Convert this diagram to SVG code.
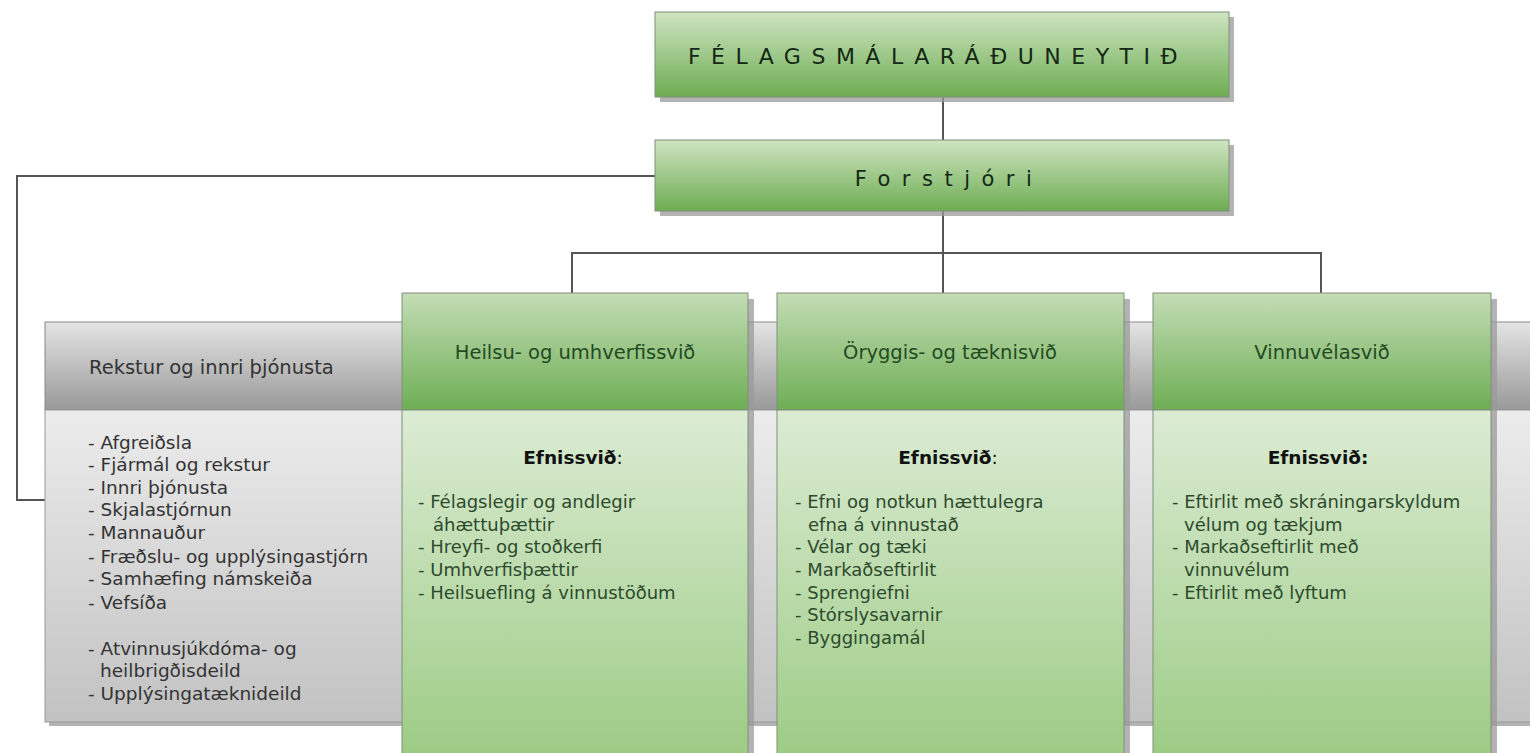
<svg xmlns="http://www.w3.org/2000/svg" width="1530" height="753" viewBox="0 0 1530 753">
<defs>
<linearGradient id="gTop" x1="0" y1="0" x2="0" y2="1">
<stop offset="0" stop-color="#cfe4c2"/><stop offset="1" stop-color="#6dad52"/>
</linearGradient>
<linearGradient id="gHead" x1="0" y1="0" x2="0" y2="1">
<stop offset="0" stop-color="#c4ddb6"/><stop offset="1" stop-color="#6eae54"/>
</linearGradient>
<linearGradient id="gBody" x1="0" y1="0" x2="0" y2="1">
<stop offset="0" stop-color="#dcecd4"/><stop offset="1" stop-color="#9ccb84"/>
</linearGradient>
<linearGradient id="grHead" x1="0" y1="0" x2="0" y2="1">
<stop offset="0" stop-color="#e4e4e4"/><stop offset="1" stop-color="#999999"/>
</linearGradient>
<linearGradient id="grBody" x1="0" y1="0" x2="0" y2="1">
<stop offset="0" stop-color="#ececec"/><stop offset="1" stop-color="#c2c2c2"/>
</linearGradient>
</defs>
<style>
.shadow{fill:#9a9a9a;opacity:0.75}
.edge{stroke:#7f8f7a;stroke-width:1}
.conn{fill:none;stroke:#555;stroke-width:2}
.title{font-family:"DejaVu Sans",Verdana,sans-serif;fill:#142814}
.hd{font-family:"DejaVu Sans",Verdana,sans-serif;font-size:19.5px;fill:#234a23;text-anchor:middle}
.ghd{font-family:"DejaVu Sans",Verdana,sans-serif;font-size:19.5px;fill:#333}
.ef{font-family:"DejaVu Sans",Verdana,sans-serif;font-size:18.5px;fill:#111;text-anchor:middle;font-weight:bold}
.li{font-family:"DejaVu Sans",Verdana,sans-serif;font-size:18px;fill:#2d4a2d}
.gli{font-family:"DejaVu Sans",Verdana,sans-serif;font-size:18.5px;fill:#333}
</style>
<rect width="1530" height="753" fill="#ffffff"/>

<g id="connectors">
<path class="conn" d="M943,97 V140"/>
<path class="conn" d="M655,176 H17 V500 H45"/>
<path class="conn" d="M943,211 V293"/>
<path class="conn" d="M572,293 V253 H1321 V293"/>
</g>

<g id="node-raduneyti">
<rect class="shadow" x="660" y="17" width="574" height="85"/>
<rect class="edge" x="655" y="12" width="574" height="85" fill="url(#gTop)"/>
<text class="title" x="938" y="64" text-anchor="middle" font-size="22" letter-spacing="10.5">FÉLAGSMÁLARÁÐUNEYTIÐ</text>
</g>

<g id="node-forstjori">
<rect class="shadow" x="660" y="145" width="574" height="71"/>
<rect class="edge" x="655" y="140" width="574" height="71" fill="url(#gTop)"/>
<text class="title" x="949" y="186" text-anchor="middle" font-size="21" letter-spacing="11.5">Forstjóri</text>
</g>

<g id="node-rekstur">
<rect class="shadow" x="49" y="326" width="1490" height="400"/>
<rect x="45" y="322" width="1490" height="88" fill="url(#grHead)" stroke="#888" stroke-width="1"/>
<rect x="45" y="410" width="1490" height="312" fill="url(#grBody)" stroke="#999" stroke-width="1"/>
<text class="ghd" x="89" y="374">Rekstur og innri þjónusta</text>
<text class="gli" x="88" y="449">- Afgreiðsla</text>
<text class="gli" x="88" y="471">- Fjármál og rekstur</text>
<text class="gli" x="88" y="494">- Innri þjónusta</text>
<text class="gli" x="88" y="516">- Skjalastjórnun</text>
<text class="gli" x="88" y="539">- Mannauður</text>
<text class="gli" x="88" y="563">- Fræðslu- og upplýsingastjórn</text>
<text class="gli" x="88" y="585">- Samhæfing námskeiða</text>
<text class="gli" x="88" y="609">- Vefsíða</text>
<text class="gli" x="88" y="655">- Atvinnusjúkdóma- og</text>
<text class="gli" x="100" y="677">heilbrigðisdeild</text>
<text class="gli" x="88" y="700">- Upplýsingatæknideild</text>
</g>

<g id="node-heilsu">
<rect class="shadow" x="408" y="299" width="346" height="460"/>
<rect class="edge" x="402" y="293" width="346" height="117" fill="url(#gHead)"/>
<rect class="edge" x="402" y="410" width="346" height="350" fill="url(#gBody)"/>
<text class="hd" x="575" y="359">Heilsu- og umhverfissvið</text>
<text class="ef" x="573" y="464">Efnissvið<tspan font-weight="normal">:</tspan></text>
<text class="li" x="418" y="508">- Félagslegir og andlegir</text>
<text class="li" x="433" y="531">áhættuþættir</text>
<text class="li" x="418" y="553">- Hreyfi- og stoðkerfi</text>
<text class="li" x="418" y="576">- Umhverfisþættir</text>
<text class="li" x="418" y="599">- Heilsuefling á vinnustöðum</text>
</g>

<g id="node-oryggis">
<rect class="shadow" x="783" y="299" width="347" height="460"/>
<rect class="edge" x="777" y="293" width="347" height="117" fill="url(#gHead)"/>
<rect class="edge" x="777" y="410" width="347" height="350" fill="url(#gBody)"/>
<text class="hd" x="950" y="359">Öryggis- og tæknisvið</text>
<text class="ef" x="948" y="464">Efnissvið<tspan font-weight="normal">:</tspan></text>
<text class="li" x="795" y="508">- Efni og notkun hættulegra</text>
<text class="li" x="808" y="531">efna á vinnustað</text>
<text class="li" x="795" y="553">- Vélar og tæki</text>
<text class="li" x="795" y="576">- Markaðseftirlit</text>
<text class="li" x="795" y="599">- Sprengiefni</text>
<text class="li" x="795" y="621">- Stórslysavarnir</text>
<text class="li" x="795" y="644">- Byggingamál</text>
</g>

<g id="node-vinnuvela">
<rect class="shadow" x="1159" y="299" width="338" height="460"/>
<rect class="edge" x="1153" y="293" width="338" height="117" fill="url(#gHead)"/>
<rect class="edge" x="1153" y="410" width="338" height="350" fill="url(#gBody)"/>
<text class="hd" x="1322" y="359">Vinnuvélasvið</text>
<text class="ef" x="1318" y="464">Efnissvið:</text>
<text class="li" x="1172" y="508">- Eftirlit með skráningarskyldum</text>
<text class="li" x="1184" y="531">vélum og tækjum</text>
<text class="li" x="1172" y="553">- Markaðseftirlit með</text>
<text class="li" x="1184" y="576">vinnuvélum</text>
<text class="li" x="1172" y="599">- Eftirlit með lyftum</text>
</g>
</svg>
